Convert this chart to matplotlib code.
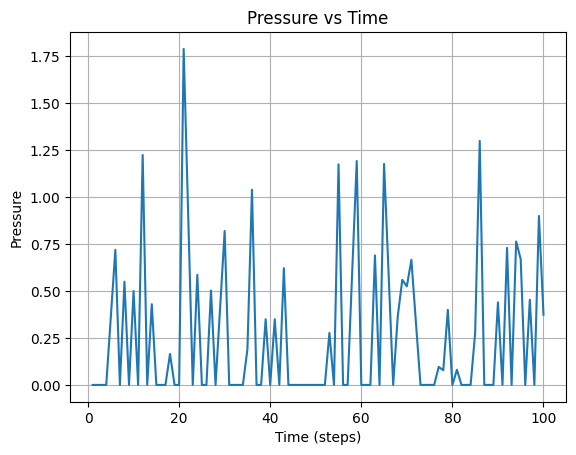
import numpy as np
import matplotlib
matplotlib.use("Agg")
import matplotlib.pyplot as plt

# 압력 값 (1 ~ 100 step), 그림에서 읽은 값
steps = list(range(1, 101))
pressure = [
    0, 0, 0, 0, 0.36, 0.72, 0, 0.55, 0, 0.50,          # 1-10
    0, 1.225, 0, 0.43, 0, 0, 0, 0.165, 0, 0,           # 11-20
    1.79, 0.90, 0, 0.587, 0, 0, 0.503, 0, 0.41, 0.82,  # 21-30
    0, 0, 0, 0, 0.19, 1.04, 0, 0, 0.35, 0,             # 31-40
    0.35, 0, 0.622, 0, 0, 0, 0, 0, 0, 0,               # 41-50
    0, 0, 0.277, 0, 1.175, 0, 0, 0.60, 1.193, 0,       # 51-60
    0, 0, 0.69, 0, 1.177, 0.59, 0, 0.365, 0.56, 0.525, # 61-70
    0.667, 0.33, 0, 0, 0, 0, 0.096, 0.078, 0.40, 0,    # 71-80
    0.081, 0, 0, 0, 0.277, 1.30, 0, 0, 0, 0.44,        # 81-90
    0, 0.73, 0, 0.764, 0.67, 0, 0.454, 0, 0.90, 0.374, # 91-100
]

fig, ax = plt.subplots()
ax.plot(steps, pressure)
ax.set_title("Pressure vs Time")
ax.set_xlabel("Time (steps)")
ax.set_ylabel("Pressure")
ax.grid(True)

plt.savefig("out.png", bbox_inches="tight")
